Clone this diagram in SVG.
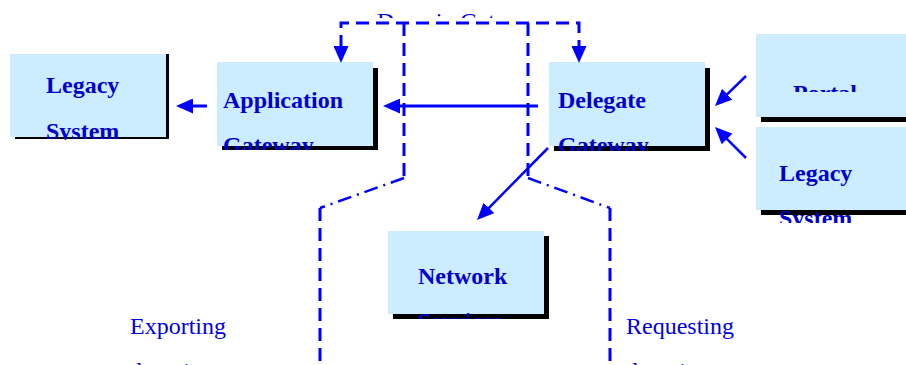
<svg xmlns="http://www.w3.org/2000/svg" width="906" height="365" viewBox="0 0 906 365">
<defs>
<style>
.box{fill:#CCECFF}
.shadow{fill:#000000}
.t{font-family:"Liberation Serif","Times New Roman",serif;font-size:24px;font-weight:bold;fill:#0000CC}
.n{font-family:"Liberation Serif","Times New Roman",serif;font-size:24px;fill:#0000DD}
.solid{fill:none;stroke:#0000FF;stroke-width:3}
.thin{fill:none;stroke:#0000FF;stroke-width:2.5}
.dash{fill:none;stroke:#0000FF;stroke-width:3;stroke-dasharray:13 7}
.dashdot{fill:none;stroke:#0000FF;stroke-width:2.5;stroke-dasharray:14 6 2 6}
</style>
<marker id="ah" viewBox="0 0 17 15" refX="2" refY="7.5" markerWidth="17" markerHeight="15" markerUnits="userSpaceOnUse" orient="auto-start-reverse">
<path d="M0,0 L17,7.5 L0,15 z" fill="#0000FF"/>
</marker>
<clipPath id="cLegL"><rect x="0" y="50" width="200" height="90"/></clipPath>
<clipPath id="cApp"><rect x="200" y="58" width="200" height="92"/></clipPath>
<clipPath id="cDel"><rect x="540" y="58" width="200" height="93"/></clipPath>
<clipPath id="cPor"><rect x="750" y="30" width="156" height="62"/></clipPath>
<clipPath id="cLegR"><rect x="750" y="122" width="156" height="101"/></clipPath>
<clipPath id="cNet"><rect x="380" y="228" width="180" height="91"/></clipPath>
<clipPath id="cDom"><rect x="300" y="0" width="300" height="18"/></clipPath>
</defs>
<rect width="906" height="365" fill="#FFFFFF"/>

<g id="legacy-left">
<rect class="shadow" x="15" y="54" width="154" height="85"/>
<rect class="box" x="10" y="54" width="156" height="83"/>
<g clip-path="url(#cLegL)">
<text class="t" x="46" y="93">Legacy</text>
<text class="t" x="46" y="139">System</text>
</g>
</g>

<g id="application-gateway">
<rect class="shadow" x="222" y="68" width="156" height="82"/>
<rect class="box" x="217" y="62" width="156" height="84"/>
<g clip-path="url(#cApp)">
<text class="t" x="223" y="108">Application</text>
<text class="t" x="223" y="153">Gateway</text>
</g>
</g>

<g id="delegate-gateway">
<rect class="shadow" x="554" y="68" width="156" height="83"/>
<rect class="box" x="549" y="62" width="156" height="84"/>
<g clip-path="url(#cDel)">
<text class="t" x="558" y="108">Delegate</text>
<text class="t" x="558" y="153">Gateway</text>
</g>
</g>

<g id="portal">
<rect class="shadow" x="761" y="40" width="160" height="82"/>
<rect class="box" x="756" y="34" width="160" height="83"/>
<g clip-path="url(#cPor)">
<text class="t" x="793" y="101">Portal</text>
</g>
</g>

<g id="legacy-right">
<rect class="shadow" x="761" y="133" width="160" height="82"/>
<rect class="box" x="756" y="127" width="160" height="83"/>
<g clip-path="url(#cLegR)">
<text class="t" x="779" y="181">Legacy</text>
<text class="t" x="779" y="226">System</text>
</g>
</g>

<g id="network-services">
<rect class="shadow" x="393" y="236" width="156" height="83"/>
<rect class="box" x="388" y="231" width="156" height="83"/>
<g clip-path="url(#cNet)">
<text class="t" x="418" y="284">Network</text>
<text class="t" x="418" y="329">Services</text>
</g>
</g>

<g id="domain-gateway-label" clip-path="url(#cDom)">
<text class="n" x="377" y="29">Domain Gateway</text>
</g>

<g id="domain-labels">
<text class="n" x="130" y="334">Exporting</text>
<text class="n" x="130" y="379">domain</text>
<text class="n" x="626" y="334">Requesting</text>
<text class="n" x="626" y="379">domain</text>
</g>

<g id="connectors">
<path class="dash" d="M341,48 V23 H579 V48" marker-start="url(#ah)" marker-end="url(#ah)"/>
<path class="dash" d="M404,23 V178"/>
<path class="dashdot" d="M404,178 L320,208"/>
<path class="dash" d="M320,208 V365"/>
<path class="dash" d="M528,23 V178"/>
<path class="dashdot" d="M528,178 L610,208"/>
<path class="dash" d="M610,208 V365"/>
<path class="solid" d="M207,106 H191" marker-end="url(#ah)"/>
<path class="solid" d="M538,106 H398" marker-end="url(#ah)"/>
<path class="thin" d="M548,148 L487.5,209.3" marker-end="url(#ah)"/>
<path class="thin" d="M746,76 L725.8,95.6" marker-end="url(#ah)"/>
<path class="thin" d="M746,158 L725.6,137.6" marker-end="url(#ah)"/>
</g>
</svg>
